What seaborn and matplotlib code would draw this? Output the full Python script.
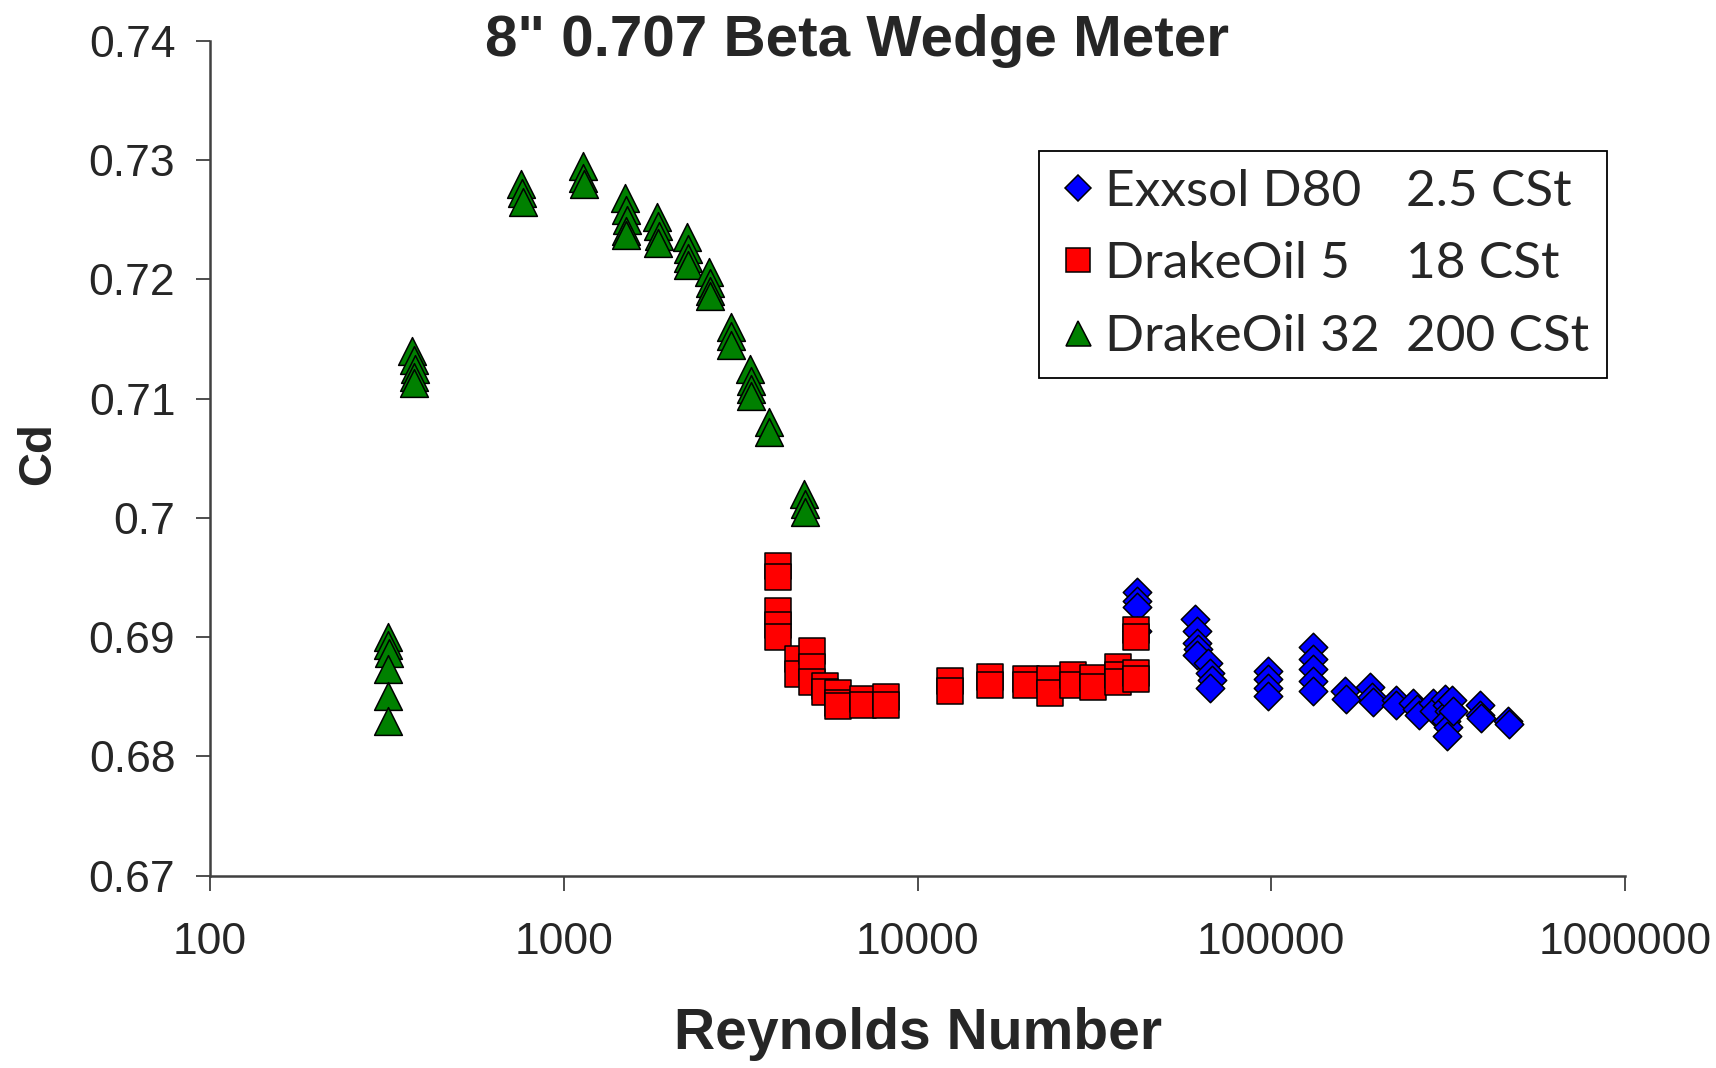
import matplotlib
matplotlib.use("Agg")
import matplotlib.pyplot as plt
import matplotlib.ticker as mticker
from matplotlib.lines import Line2D
import seaborn as sns
import pandas as pd

# Exxsol D80 (2.5 cSt)
exx_re = [41850, 41850, 41850, 41850,
          60800, 61480, 61480, 62200, 61480,
          66200, 67030, 67800, 67030,
          97750, 97750, 97750, 97750,
          131100, 131100, 131100, 131100, 131100,
          161500, 163000,
          190000, 192200, 194000,
          225900, 225900,
          252000, 257700, 262000,
          287000, 289000,
          309000, 313500, 317000, 311000, 315000, 313500,
          324000, 326000,
          388300, 388300, 392000,
          466600, 470000]
exx_cd = [0.6938, 0.6930, 0.6925, 0.6905,
          0.6915, 0.6905, 0.6895, 0.6890, 0.6885,
          0.6878, 0.6870, 0.6864, 0.6857,
          0.6872, 0.6865, 0.6857, 0.6851,
          0.6892, 0.6882, 0.6873, 0.6863, 0.6855,
          0.6855, 0.6848,
          0.6858, 0.6850, 0.6846,
          0.6847, 0.6843,
          0.6845, 0.6840, 0.6835,
          0.6845, 0.6838,
          0.6848, 0.6843, 0.6838, 0.6830, 0.6825, 0.6817,
          0.6847, 0.6838,
          0.6843, 0.6835, 0.6832,
          0.6830, 0.6827]

# DrakeOil 5 (18 cSt)
d5_re = [4036, 4036, 4036, 4036, 4036,
         4583, 4583,
         5023, 5023, 5023,
         5480, 5480,
         5970, 5970, 5970,
         7020, 7020,
         8170, 8170,
         12330, 12330,
         15990, 15990,
         20220, 20220,
         23620, 23620,
         27440, 27440,
         31420, 31420,
         36840, 36840, 36840,
         41550, 41550, 41550, 41550]
d5_cd = [0.6960, 0.6950, 0.6922, 0.6910, 0.6900,
         0.6882, 0.6869,
         0.6888, 0.6875, 0.6862,
         0.6859, 0.6854,
         0.6853, 0.6845, 0.6842,
         0.6848, 0.6843,
         0.6850, 0.6843,
         0.6863, 0.6855,
         0.6867, 0.6860,
         0.6865, 0.6860,
         0.6865, 0.6853,
         0.6868, 0.6860,
         0.6866, 0.6858,
         0.6875, 0.6868, 0.6862,
         0.6870, 0.6865, 0.6906, 0.6900]

# DrakeOil 32 (200 cSt)
d32_re = [319, 319, 320, 319, 319, 319,
          372, 376, 380, 376, 378,
          758, 762, 765,
          1130, 1135, 1140,
          1490, 1500, 1505, 1500, 1500,
          1840, 1849, 1855, 1849,
          2235, 2244, 2250, 2244,
          2580, 2589, 2595, 2589,
          2960, 2970, 2975,
          3370, 3376, 3380, 3376,
          3800, 3811,
          4790, 4800, 4810]
d32_cd = [0.6900, 0.6893, 0.6887, 0.6873, 0.6851, 0.6830,
          0.7140, 0.7132, 0.7125, 0.7118, 0.7113,
          0.7280, 0.7272, 0.7265,
          0.7295, 0.7285, 0.7280,
          0.7268, 0.7258, 0.7250, 0.7240, 0.7237,
          0.7252, 0.7245, 0.7236, 0.7230,
          0.7235, 0.7225, 0.7218, 0.7212,
          0.7206, 0.7197, 0.7190, 0.7186,
          0.7160, 0.7152, 0.7145,
          0.7125, 0.7115, 0.7108, 0.7102,
          0.7080, 0.7072,
          0.7020, 0.7012, 0.7005]

fluid_names = ["Exxsol D80", "DrakeOil 5", "DrakeOil 32"]
viscosities = ["2.5 CSt", "18 CSt", "200 CSt"]
y_ticks = [0.67, 0.68, 0.69, 0.70, 0.71, 0.72, 0.73, 0.74]
x_ticks = [100, 1000, 10000, 100000, 1000000]

sns.set_theme(style="white")
plt.rcParams["font.family"] = ["Liberation Sans", "DejaVu Sans"]

fig = plt.figure(figsize=(17.16, 10.68), dpi=100)
ax = fig.add_axes([0.1224, 0.180, 0.8246, 0.782])

series = [
    (exx_re, exx_cd, "D", "#0000FF", 210),
    (d5_re, d5_cd, "s", "#FF0000", 340),
    (d32_re, d32_cd, "^", "#008000", 400),
]
for re_vals, cd_vals, mk, col, size in series:
    df = pd.DataFrame({"Re": re_vals, "Cd": cd_vals})
    sns.scatterplot(data=df, x="Re", y="Cd", marker=mk, color=col, s=size,
                    edgecolor="black", linewidth=1.1, ax=ax, legend=False,
                    zorder=3)

ax.set_xscale("log")
ax.set_xlim(100, 1000000)
ax.set_ylim(0.67, 0.74)
ax.set_xticks(x_ticks)
ax.set_yticks(y_ticks)
ax.xaxis.set_minor_locator(mticker.NullLocator())
ax.xaxis.set_major_formatter(mticker.FuncFormatter(lambda v, p: f"{int(round(v))}"))
ax.yaxis.set_major_formatter(mticker.FuncFormatter(lambda v, p: f"{v:g}"))

for side in ("top", "right"):
    ax.spines[side].set_visible(False)
for side in ("left", "bottom"):
    ax.spines[side].set_color("#404040")
    ax.spines[side].set_linewidth(1.8)

ax.tick_params(axis="y", which="major", direction="out", length=10, width=1.3,
               color="#404040", labelsize=32, pad=15, left=True)
ax.tick_params(axis="x", which="major", direction="out", length=11, width=1.3,
               color="#404040", labelsize=32, pad=22, bottom=True)

ax.set_xlabel("Reynolds Number", fontsize=41, fontweight="bold")
ax.xaxis.set_label_coords(0.5, -0.189)
ax.xaxis.label.set_va("center")
ax.set_ylabel("Cd", fontsize=34, fontweight="bold")
ax.yaxis.set_label_coords(-0.1216, 0.505)
ax.yaxis.label.set_va("center")

fig.text(0.4994, 0.962, "8\" 0.707 Beta Wedge Meter", fontsize=42,
         fontweight="bold", ha="center", va="center")

handles = [
    Line2D([], [], linestyle="none", marker="D", markersize=13,
           markerfacecolor="#0000FF", markeredgecolor="black", markeredgewidth=1.1),
    Line2D([], [], linestyle="none", marker="s", markersize=17,
           markerfacecolor="#FF0000", markeredgecolor="black", markeredgewidth=1.1),
    Line2D([], [], linestyle="none", marker="^", markersize=18,
           markerfacecolor="#008000", markeredgecolor="black", markeredgewidth=1.1),
]
blanks = [Line2D([], [], linestyle="none") for _ in range(3)]
leg = ax.legend(handles + blanks, fluid_names + viscosities, ncol=2,
                loc="upper left", bbox_to_anchor=(0.568, 0.899),
                frameon=True, fancybox=False, shadow=False, framealpha=1,
                handlelength=0.8, handletextpad=0.12, columnspacing=-0.4,
                labelspacing=0.52, borderpad=0.35,
                prop={"family": "Lato", "size": 37})
leg.get_frame().set_edgecolor("black")
leg.get_frame().set_linewidth(1.3)

fig.savefig("out.png", dpi=100)
